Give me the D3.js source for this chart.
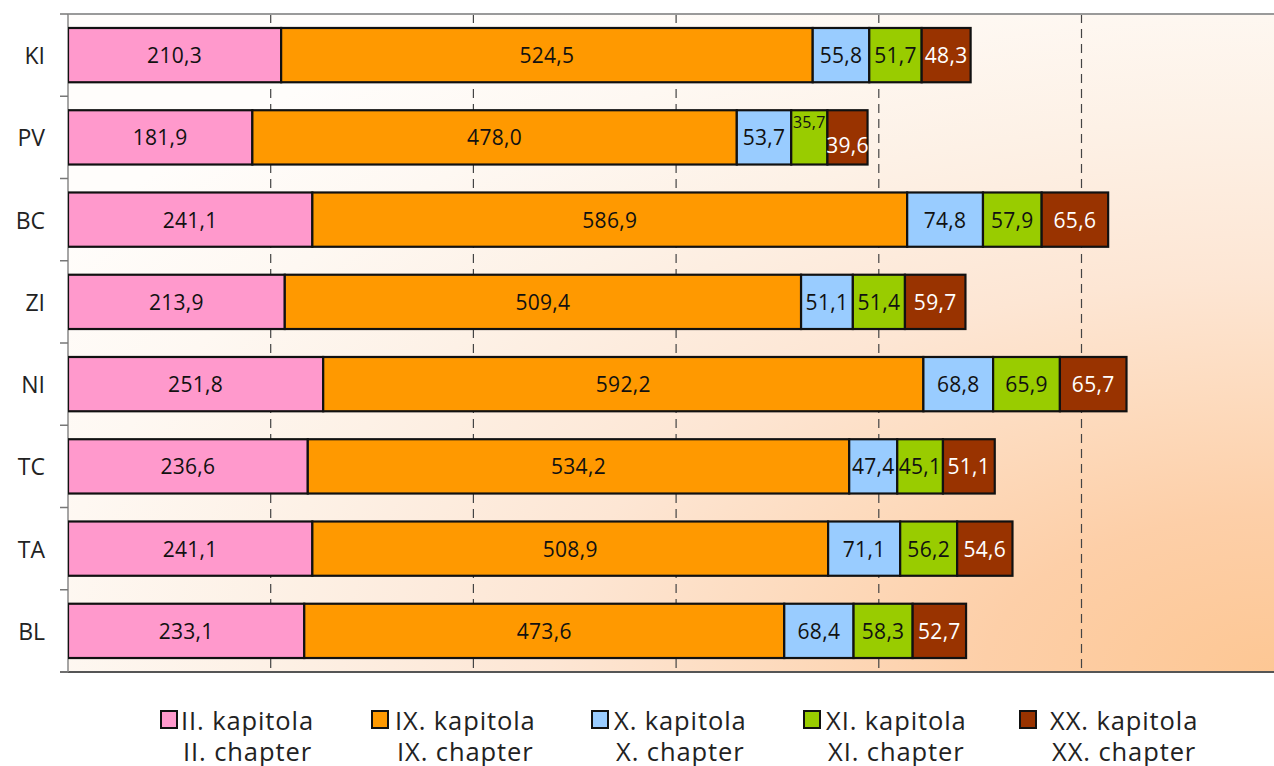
<!DOCTYPE html>
<html>
<head>
<meta charset="utf-8">
<script src="https://cdn.jsdelivr.net/npm/d3@7"></script>
<style>
html,body{margin:0;padding:0;background:#fff;overflow:hidden;}
svg{display:block;}
</style>
</head>
<body>
<svg id="chart" width="1274" height="766"></svg>
<script>
// ---- data ----
const categories = ["KI","PV","BC","ZI","NI","TC","TA","BL"];
const seriesKeys = ["II","IX","X","XI","XX"];
const seriesNamesCz = ["II. kapitola","IX. kapitola","X. kapitola","XI. kapitola","XX. kapitola"];
const seriesNamesEn = ["II. chapter","IX. chapter","X. chapter","XI. chapter","XX. chapter"];
const valuesII = [210.3,181.9,241.1,213.9,251.8,236.6,241.1,233.1];
const valuesIX = [524.5,478.0,586.9,509.4,592.2,534.2,508.9,473.6];
const valuesX  = [55.8,53.7,74.8,51.1,68.8,47.4,71.1,68.4];
const valuesXI = [51.7,35.7,57.9,51.4,65.9,45.1,56.2,58.3];
const valuesXX = [48.3,39.6,65.6,59.7,65.7,51.1,54.6,52.7];
const xTicks = [200,400,600,800,1000];

(function(){
// ---- styles ----
const colors = ["#ff99cc","#ff9900","#99ccff","#99cc00","#993300"];
const labelColors = ["#111","#111","#111","#111","#fff"];

const svg = d3.select("#chart");
const W = 1274, H = 766;
const mLeft = 68, mTop = 14, mBottom = 672;
const pxPerUnit = 1.0135;

const x = d3.scaleLinear().domain([0,1200]).range([mLeft, mLeft + 1200*pxPerUnit]);
const y = d3.scaleBand().domain(categories).range([mTop,mBottom]).padding(0);
const barH = y.bandwidth()*0.66;

const allSeries = [valuesII,valuesIX,valuesX,valuesXI,valuesXX];
const rows = categories.map((c,i)=>{const o={cat:c}; seriesKeys.forEach((k,j)=>o[k]=allSeries[j][i]); return o;});
const stacked = d3.stack().keys(seriesKeys)(rows);

// background gradient
const defs = svg.append("defs");
const grad = defs.append("radialGradient").attr("id","bg")
  .attr("cx",1).attr("cy",1).attr("fx",1).attr("fy",1).attr("r",1.2);
[[0,"#fdc794"],[0.2,"#fdcfa8"],[0.35,"#fddbbe"],[0.5,"#fde6d4"],[0.7,"#fdf1e6"],[0.85,"#fef8f2"],[1,"#fffdfb"]].forEach(([o,c])=>
  grad.append("stop").attr("offset",o).attr("stop-color",c));
defs.append("clipPath").attr("id","plotclip").append("rect")
  .attr("x",mLeft).attr("y",mTop).attr("width",W-mLeft).attr("height",mBottom-mTop);

svg.append("rect").attr("x",mLeft).attr("y",mTop).attr("width",W-mLeft).attr("height",mBottom-mTop)
  .attr("fill","url(#bg)");

// gridlines
svg.append("g").selectAll("line").data(xTicks).join("line")
  .attr("x1",d=>x(d)).attr("x2",d=>x(d)).attr("y1",mTop).attr("y2",mBottom)
  .attr("stroke","#444").attr("stroke-width",1.2).attr("stroke-dasharray","9,6");

// frame lines
svg.append("line").attr("x1",mLeft).attr("x2",W).attr("y1",mTop).attr("y2",mTop)
  .attr("stroke","#9a9a9a").attr("stroke-width",2);
svg.append("line").attr("x1",60).attr("x2",W).attr("y1",mBottom).attr("y2",mBottom)
  .attr("stroke","#555").attr("stroke-width",2);

// y axis
const yAxisG = svg.append("g");
yAxisG.append("line").attr("x1",mLeft).attr("x2",mLeft).attr("y1",mTop).attr("y2",mBottom)
  .attr("stroke","#888").attr("stroke-width",1.5);
const boundaries = categories.map(c=>y(c)).concat([mBottom]);
yAxisG.selectAll("line.tick").data(boundaries).join("line").attr("class","tick")
  .attr("x1",60).attr("x2",mLeft).attr("y1",d=>d).attr("y2",d=>d)
  .attr("stroke","#777").attr("stroke-width",1.5);
yAxisG.selectAll("text").data(categories).join("text")
  .attr("x",45).attr("y",d=>y(d)+y.bandwidth()/2)
  .attr("text-anchor","end").attr("dominant-baseline","central")
  .attr("font-family","'Open Sans', sans-serif").attr("font-size",23).attr("fill","#222")
  .text(d=>d);

// bars
const barsG = svg.append("g").attr("clip-path","url(#plotclip)");
stacked.forEach((layer,j)=>{
  barsG.append("g").selectAll("rect").data(layer).join("rect")
    .attr("x",d=>x(d[0])).attr("width",d=>x(d[1])-x(d[0]))
    .attr("y",d=>y(d.data.cat)+(y.bandwidth()-barH)/2).attr("height",barH)
    .attr("fill",colors[j]).attr("stroke","#111").attr("stroke-width",2.2);
});

// labels
const fmt = v => d3.format(".1f")(v).replace(".",",");
const labelAdjust = {"PV|XI":{dy:-15,size:16}, "PV|XX":{dy:8,size:21}};
stacked.forEach((layer,j)=>{
  svg.append("g").selectAll("text").data(layer).join("text")
    .each(function(d){
      const key = d.data.cat+"|"+seriesKeys[j];
      const adj = labelAdjust[key] || {dy:0,size:21};
      d3.select(this)
        .attr("x",(x(d[0])+x(d[1]))/2)
        .attr("y",y(d.data.cat)+y.bandwidth()/2+adj.dy)
        .attr("font-size",adj.size);
    })
    .attr("text-anchor","middle").attr("dominant-baseline","central")
    .attr("font-family","'Open Sans', sans-serif").attr("letter-spacing",0.3)
    .attr("fill",labelColors[j])
    .text(d=>fmt(d[1]-d[0]));
});

// legend
const legendSquares = [161,372,592,804,1020];
const legendTextStart = [181,395,614,826,1050];
const legG = svg.append("g").attr("font-family","'Open Sans', sans-serif").attr("font-size",25.5).attr("fill","#222");
seriesKeys.forEach((k,j)=>{
  legG.append("rect").attr("x",legendSquares[j]).attr("y",711).attr("width",16).attr("height",17)
    .attr("fill",colors[j]).attr("stroke","#111").attr("stroke-width",2);
  const t1 = legG.append("text").attr("x",legendTextStart[j]).attr("y",730)
    .attr("letter-spacing",0.9).text(seriesNamesCz[j]);
  const w = t1.node().getComputedTextLength();
  legG.append("text").attr("x",legendTextStart[j]+w/2).attr("y",761)
    .attr("text-anchor","middle").attr("letter-spacing",0.9).text(seriesNamesEn[j]);
});
})();
</script>
</body>
</html>
